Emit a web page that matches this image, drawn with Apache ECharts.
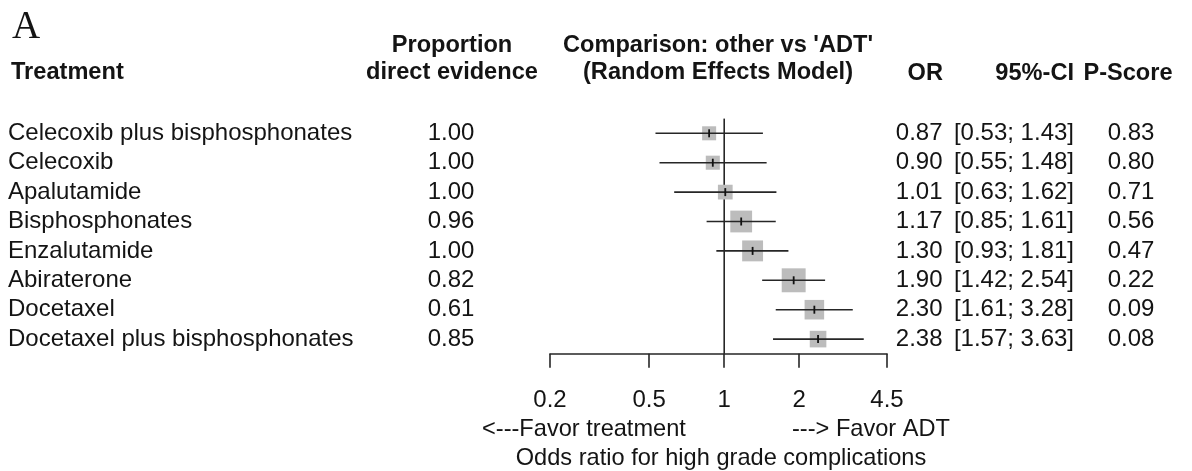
<!DOCTYPE html>
<html>
<head>
<meta charset="utf-8">
<script src="https://cdn.jsdelivr.net/npm/echarts@6/dist/echarts.min.js"></script>
<style>html,body{margin:0;padding:0;background:#fff}#c{width:1192px;height:471px}</style>
</head>
<body>
<div id="c"></div>
<script>
// ---- data ----
const treatments = ['Celecoxib plus bisphosphonates','Celecoxib','Apalutamide','Bisphosphonates','Enzalutamide','Abiraterone','Docetaxel','Docetaxel plus bisphosphonates'];
const propDirect = [1.00,1.00,1.00,0.96,1.00,0.82,0.61,0.85];
const orValues   = [0.87,0.90,1.01,1.17,1.30,1.90,2.30,2.38];
const ciLower    = [0.53,0.55,0.63,0.85,0.93,1.42,1.61,1.57];
const ciUpper    = [1.43,1.48,1.62,1.61,1.81,2.54,3.28,3.63];
const pScores    = [0.83,0.80,0.71,0.56,0.47,0.22,0.09,0.08];
const xTicks     = [0.2,0.5,1,2,4.5];
const refValue   = 1;

// ---- style ----
const SANS = "'Liberation Sans', Arial, Helvetica, sans-serif";
const SERIF = "'Liberation Serif', 'Times New Roman', serif";
const FS = 24;
const FS_H = 23.6;
const FS_B = 23.6;
const TXT = '#141414';
const LINE = '#262626';
const SQ = '#bcbcbc';
const SQUARE_K = 3.55; // px * SE -> square side

const chart = echarts.init(document.getElementById('c'), null, {renderer: 'canvas'});

function txt(x, y, s, align, bold, size) {
  return {
    type: 'text', x: x, y: y,
    style: {
      text: s, fill: TXT,
      font: (bold ? 'bold ' : '') + (size || FS) + 'px ' + SANS,
      align: align, textAlign: align,
      verticalAlign: 'middle', textVerticalAlign: 'middle'
    }
  };
}

const rows = orValues.map((v, i) => [v, ciLower[i], ciUpper[i], i]);

function renderRow(params, api) {
  const i = api.value(3);
  const or = api.value(0), lo = api.value(1), hi = api.value(2);
  const pO = api.coord([or, i]);
  const pL = api.coord([lo, i]);
  const pH = api.coord([hi, i]);
  const y = pO[1];
  const se = Math.log(hi / lo) / (2 * 1.96);
  const s = SQUARE_K / se;
  return {
    type: 'group',
    children: [
      {type: 'rect', shape: {x: pO[0] - s / 2, y: y - s / 2, width: s, height: s}, style: {fill: SQ}},
      {type: 'line', shape: {x1: pL[0], y1: y, x2: pH[0], y2: y}, style: {stroke: LINE, lineWidth: 1.6}},
      {type: 'line', shape: {x1: pO[0], y1: y - 4, x2: pO[0], y2: y + 4}, style: {stroke: '#111', lineWidth: 1.8}},
      txt(8, y, treatments[i], 'left'),
      txt(451, y, propDirect[i].toFixed(2), 'center'),
      txt(942.5, y, or.toFixed(2), 'right'),
      txt(1074, y, '[' + lo.toFixed(2) + '; ' + hi.toFixed(2) + ']', 'right'),
      txt(1131, y, pScores[i].toFixed(2), 'center')
    ]
  };
}

function renderRef(params, api) {
  const p = api.coord([api.value(0), 0]);
  const cs = params.coordSys;
  return {
    type: 'line',
    shape: {x1: p[0], y1: cs.y, x2: p[0], y2: cs.y + cs.height},
    style: {stroke: LINE, lineWidth: 1.6}
  };
}

const option = {
  backgroundColor: '#fff',
  animation: false,
  grid: {left: 550, right: 305, top: 118.6, height: 235.2, containLabel: false},
  xAxis: {
    type: 'log', logBase: 10, min: 0.2, max: 4.5,
    splitLine: {show: false}, minorTick: {show: false},
    axisLine: {show: true, onZero: false, lineStyle: {color: LINE, width: 1.6}},
    axisTick: {show: true, inside: false, length: 14, lineStyle: {color: LINE, width: 1.6}, customValues: xTicks},
    axisLabel: {
      customValues: xTicks, margin: 35, fontSize: FS, fontFamily: SANS, color: TXT,
      formatter: v => String(+(+v).toPrecision(3))
    }
  },
  yAxis: {
    type: 'category', data: treatments, inverse: true, show: false
  },
  series: [
    {type: 'custom', name: 'ref', data: [[refValue]], encode: {x: 0}, renderItem: renderRef, clip: false, silent: true, z: 1},
    {type: 'custom', name: 'forest', data: rows, encode: {x: [0, 1, 2], y: 3}, renderItem: renderRow, clip: false, silent: true, z: 2}
  ],
  graphic: [
    {type: 'text', x: 12, y: 28, style: {text: 'A', fill: TXT, font: '39px ' + SERIF, align: 'left', textAlign: 'left', verticalAlign: 'middle', textVerticalAlign: 'middle'}},
    txt(11, 72, 'Treatment', 'left', true, FS_H),
    txt(452, 45, 'Proportion', 'center', true, FS_H),
    txt(452, 72, 'direct evidence', 'center', true, FS_H),
    txt(718, 45, "Comparison: other vs 'ADT'", 'center', true, FS_H),
    txt(718, 72, '(Random Effects Model)', 'center', true, FS_H),
    txt(943, 73, 'OR', 'right', true, FS_H),
    txt(1074, 73, '95%-CI', 'right', true, FS_H),
    txt(1128, 73, 'P-Score', 'center', true, FS_H),
    txt(482, 429, '<---Favor treatment', 'left', false, FS_B),
    txt(792, 429, '---> Favor ADT', 'left', false, FS_B),
    txt(721, 458, 'Odds ratio for high grade complications', 'center', false, FS_B)
  ]
};
chart.setOption(option);
</script>
</body>
</html>
